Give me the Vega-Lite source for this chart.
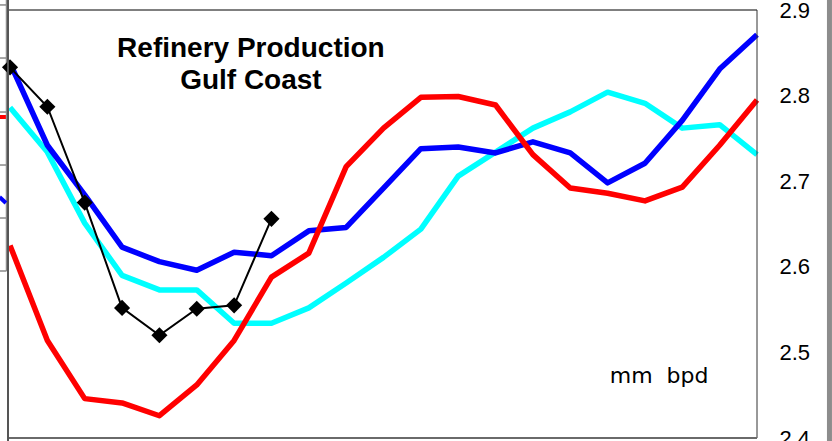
{
  "$schema": "https://vega.github.io/schema/vega-lite/v6.json",
  "width": 749,
  "height": 428,
  "autosize": "none",
  "padding": {"left": 8, "top": 10, "right": 75, "bottom": 3},
  "background": "white",
  "config": {"view": {"stroke": null}},
  "datasets": {
    "main": [
      {"i": 0, "cyan": 2.786, "blue": 2.838, "red": 2.625},
      {"i": 1, "cyan": 2.734, "blue": 2.742, "red": 2.514},
      {"i": 2, "cyan": 2.651, "blue": 2.684, "red": 2.446},
      {"i": 3, "cyan": 2.590, "blue": 2.623, "red": 2.441},
      {"i": 4, "cyan": 2.573, "blue": 2.606, "red": 2.426},
      {"i": 5, "cyan": 2.573, "blue": 2.596, "red": 2.462},
      {"i": 6, "cyan": 2.534, "blue": 2.617, "red": 2.514},
      {"i": 7, "cyan": 2.534, "blue": 2.613, "red": 2.588},
      {"i": 8, "cyan": 2.552, "blue": 2.642, "red": 2.616},
      {"i": 9, "cyan": 2.581, "blue": 2.646, "red": 2.717},
      {"i": 10, "cyan": 2.611, "blue": 2.692, "red": 2.762},
      {"i": 11, "cyan": 2.644, "blue": 2.738, "red": 2.798},
      {"i": 12, "cyan": 2.706, "blue": 2.740, "red": 2.799},
      {"i": 13, "cyan": 2.734, "blue": 2.733, "red": 2.789},
      {"i": 14, "cyan": 2.762, "blue": 2.746, "red": 2.731},
      {"i": 15, "cyan": 2.781, "blue": 2.733, "red": 2.692},
      {"i": 16, "cyan": 2.804, "blue": 2.698, "red": 2.686},
      {"i": 17, "cyan": 2.791, "blue": 2.721, "red": 2.677},
      {"i": 18, "cyan": 2.762, "blue": 2.771, "red": 2.693},
      {"i": 19, "cyan": 2.766, "blue": 2.831, "red": 2.742},
      {"i": 20, "cyan": 2.731, "blue": 2.871, "red": 2.795}
    ],
    "current": [
      {"i": 0, "v": 2.833},
      {"i": 1, "v": 2.787},
      {"i": 2, "v": 2.675},
      {"i": 3, "v": 2.552},
      {"i": 4, "v": 2.520},
      {"i": 5, "v": 2.551},
      {"i": 6, "v": 2.555},
      {"i": 7, "v": 2.656}
    ],
    "leftTicks": [
      {"v": 2.9059}, {"v": 2.8439}, {"v": 2.7808}, {"v": 2.7189}, {"v": 2.6570}, {"v": 2.5951}
    ],
    "one": [{}]
  },
  "layer": [
    {
      "data": {"name": "leftTicks"},
      "mark": {"type": "rule", "color": "#8a8a8a", "strokeWidth": 1.5},
      "encoding": {
        "x": {"datum": -0.28, "type": "quantitative", "scale": {"domain": [-0.054, 20], "nice": false, "zero": false}, "axis": null},
        "x2": {"datum": -0.094},
        "y": {"field": "v", "type": "quantitative", "scale": {"domain": [2.4, 2.9], "nice": false, "zero": false}, "title": null, "axis": {"orient": "right", "values": [2.4, 2.5, 2.6, 2.7, 2.8, 2.9], "format": ".1f", "domain": false, "ticks": false, "grid": false, "labelPadding": 22, "labelFont": "Liberation Sans", "labelFontSize": 22, "labelColor": "#000000", "labelAlign": "left", "labelBaseline": "middle", "labelOverlap": false, "title": null}}
      }
    },
    {
      "data": {"name": "one"},
      "mark": {"type": "rule", "color": "#8a8a8a", "strokeWidth": 1.5},
      "encoding": {
        "x": {"datum": -0.094, "type": "quantitative"},
        "y": {"datum": 2.9117, "type": "quantitative"},
        "y2": {"datum": 2.5951}
      }
    },
    {
      "data": {"name": "one"},
      "mark": {"type": "rule", "color": "#FF0000", "strokeWidth": 4},
      "encoding": {
        "x": {"datum": -0.28, "type": "quantitative"},
        "x2": {"datum": -0.11},
        "y": {"datum": 2.775, "type": "quantitative"}
      }
    },
    {
      "data": {"name": "one"},
      "mark": {"type": "rule", "color": "#0000FF", "strokeWidth": 4},
      "encoding": {
        "x": {"datum": -0.28, "type": "quantitative"},
        "x2": {"datum": -0.11},
        "y": {"datum": 2.6815, "type": "quantitative"},
        "y2": {"datum": 2.6745}
      }
    },
    {
      "data": {"name": "main"},
      "transform": [{"fold": ["cyan", "blue", "red"], "as": ["series", "v"]}],
      "mark": {"type": "line", "strokeWidth": 5.5, "strokeJoin": "round"},
      "encoding": {
        "x": {"field": "i", "type": "quantitative"},
        "y": {"field": "v", "type": "quantitative", "title": null},
        "color": {"field": "series", "type": "nominal", "scale": {"domain": ["cyan", "blue", "red"], "range": ["#00FFFF", "#0000FF", "#FF0000"]}, "legend": null}
      }
    },
    {
      "data": {"name": "current"},
      "mark": {"type": "line", "color": "#000000", "strokeWidth": 2},
      "encoding": {
        "x": {"field": "i", "type": "quantitative"},
        "y": {"field": "v", "type": "quantitative", "title": null}
      }
    },
    {
      "data": {"name": "current"},
      "mark": {"type": "point", "shape": "diamond", "filled": true, "color": "#000000", "opacity": 1, "size": 260},
      "encoding": {
        "x": {"field": "i", "type": "quantitative"},
        "y": {"field": "v", "type": "quantitative", "title": null}
      }
    },
    {
      "data": {"name": "one"},
      "mark": {"type": "rule", "color": "#000000", "strokeWidth": 1},
      "encoding": {
        "x": {"datum": -0.054, "type": "quantitative"},
        "x2": {"datum": 20},
        "y": {"datum": 2.9, "type": "quantitative"}
      }
    },
    {
      "data": {"name": "one"},
      "mark": {"type": "rule", "color": "#333333", "strokeWidth": 1},
      "encoding": {
        "x": {"datum": 20, "type": "quantitative"},
        "y": {"datum": 2.9, "type": "quantitative"},
        "y2": {"datum": 2.4}
      }
    },
    {
      "data": {"name": "one"},
      "mark": {"type": "rule", "color": "#6a6a6a", "strokeWidth": 2},
      "encoding": {
        "x": {"datum": -0.054, "type": "quantitative"},
        "x2": {"datum": 20},
        "y": {"datum": 2.4, "type": "quantitative"}
      }
    },
    {
      "data": {"name": "one"},
      "mark": {"type": "rule", "color": "#555555", "strokeWidth": 2},
      "encoding": {
        "x": {"datum": -0.054, "type": "quantitative"},
        "y": {"datum": 2.9117, "type": "quantitative"},
        "y2": {"datum": 2.3965}
      }
    },
    {
      "data": {"name": "one"},
      "mark": {"type": "rule", "color": "#8c8c8c", "strokeWidth": 5},
      "encoding": {
        "x": {"datum": 21.94, "type": "quantitative"},
        "y": {"datum": 2.9117, "type": "quantitative"},
        "y2": {"datum": 2.3965}
      }
    },
    {
      "data": {"name": "one"},
      "mark": {"type": "text", "font": "Liberation Sans", "fontWeight": "bold", "fontSize": 28, "align": "center", "baseline": "alphabetic", "lineHeight": 32, "color": "#000000"},
      "encoding": {
        "x": {"datum": 6.45, "type": "quantitative"},
        "y": {"datum": 2.845, "type": "quantitative"},
        "text": {"value": ["Refinery Production", "Gulf Coast"]}
      }
    },
    {
      "data": {"name": "one"},
      "mark": {"type": "text", "font": "DejaVu Sans", "fontSize": 22, "align": "center", "baseline": "alphabetic", "color": "#000000"},
      "encoding": {
        "x": {"datum": 17.38, "type": "quantitative"},
        "y": {"datum": 2.464, "type": "quantitative"},
        "text": {"value": "mm\u00a0\u00a0bpd"}
      }
    }
  ]
}
